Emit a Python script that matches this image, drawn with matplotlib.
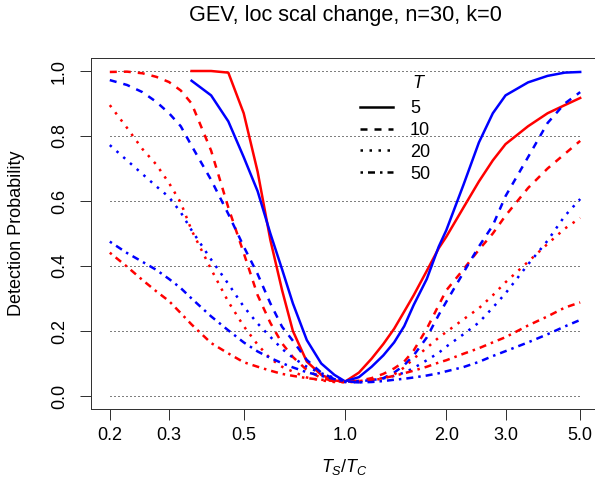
import numpy as np
import matplotlib.pyplot as plt

nan = np.nan

# T_S/T_C ratio grid (log scale on x)
ratio = [0.2, 0.225, 0.25, 0.275, 0.3, 0.325, 0.35, 0.4, 0.45, 0.5, 0.55, 0.6,
         0.65, 0.7, 0.77, 0.85, 0.93, 1.0, 1.1, 1.2, 1.3, 1.4, 1.5, 1.6, 1.75,
         1.9, 2.0, 2.25, 2.5, 2.75, 3.0, 3.5, 4.0, 4.5, 5.0]

# detection probabilities, red and blue curves for each T
red_5 = [nan, nan, nan, nan, nan, nan, 1.0, 1.0, 0.995, 0.87, 0.69, 0.48,
         0.326, 0.20, 0.106, 0.065, 0.048, 0.044, 0.072, 0.115, 0.16, 0.207, 0.26, 0.31, 0.385,
         0.455, 0.49, 0.58, 0.66, 0.725, 0.775, 0.83, 0.87, 0.895, 0.917]
blue_5 = [nan, nan, nan, nan, nan, nan, 0.97, 0.925, 0.845, 0.735, 0.63, 0.50,
          0.39, 0.285, 0.172, 0.10, 0.065, 0.045, 0.058, 0.09, 0.125, 0.165, 0.215, 0.28, 0.36,
          0.46, 0.51, 0.65, 0.78, 0.87, 0.925, 0.965, 0.985, 0.995, 0.997]
red_10 = [0.997, 0.998, 0.993, 0.982, 0.966, 0.94, 0.90, 0.755, 0.58, 0.44, 0.31, 0.225,
          0.162, 0.12, 0.08, 0.055, 0.046, 0.043, 0.047, 0.055, 0.068, 0.085, 0.106, 0.14, 0.207,
          0.28, 0.325, 0.39, 0.45, 0.50, 0.555, 0.64, 0.70, 0.745, 0.785]
blue_10 = [0.972, 0.957, 0.935, 0.905, 0.87, 0.83, 0.77, 0.665, 0.56, 0.46, 0.375, 0.285,
           0.213, 0.17, 0.111, 0.072, 0.052, 0.043, 0.042, 0.048, 0.055, 0.072, 0.095, 0.125, 0.18,
           0.25, 0.29, 0.38, 0.46, 0.525, 0.615, 0.735, 0.84, 0.90, 0.935]
red_20 = [0.895, 0.825, 0.76, 0.712, 0.655, 0.595, 0.51, 0.39, 0.29, 0.215, 0.158, 0.115,
          0.09, 0.075, 0.057, 0.048, 0.043, 0.042, 0.044, 0.048, 0.054, 0.066, 0.088, 0.115, 0.148,
          0.18, 0.197, 0.236, 0.27, 0.31, 0.35, 0.413, 0.468, 0.515, 0.548]
blue_20 = [0.772, 0.725, 0.683, 0.645, 0.612, 0.565, 0.51, 0.42, 0.345, 0.275, 0.223, 0.182,
           0.145, 0.118, 0.09, 0.07, 0.056, 0.049, 0.045, 0.049, 0.054, 0.062, 0.072, 0.086, 0.11,
           0.133, 0.152, 0.19, 0.226, 0.272, 0.316, 0.405, 0.478, 0.554, 0.606]
red_50 = [0.441, 0.398, 0.357, 0.322, 0.292, 0.255, 0.22, 0.163, 0.131, 0.104, 0.09, 0.078,
          0.068, 0.062, 0.055, 0.05, 0.046, 0.044, 0.046, 0.05, 0.055, 0.062, 0.07, 0.078, 0.09,
          0.103, 0.11, 0.13, 0.147, 0.165, 0.181, 0.217, 0.245, 0.272, 0.288]
blue_50 = [0.475, 0.44, 0.413, 0.388, 0.36, 0.332, 0.30, 0.245, 0.202, 0.165, 0.137, 0.117,
           0.101, 0.088, 0.073, 0.062, 0.052, 0.046, 0.042, 0.043, 0.046, 0.05, 0.053, 0.057, 0.063,
           0.07, 0.076, 0.089, 0.105, 0.123, 0.138, 0.165, 0.19, 0.214, 0.234]

T_labels = ["5", "10", "20", "50"]
x_ticks = [0.2, 0.3, 0.5, 1.0, 2.0, 3.0, 5.0]
y_ticks = [0.0, 0.2, 0.4, 0.6, 0.8, 1.0]

plt.rcParams["font.family"] = ["Liberation Sans", "DejaVu Sans"]
plt.rcParams["mathtext.fontset"] = "custom"
plt.rcParams["mathtext.rm"] = "Liberation Sans"
plt.rcParams["mathtext.it"] = "Liberation Sans:italic"

W, H = 595, 499
fig = plt.figure(figsize=(W / 72, H / 72), dpi=72)
# plot box in pixels: left 91, right 599, top 58, bottom 409
ax = fig.add_axes([91 / W, (H - 409) / H, (599 - 91) / W, (409 - 58) / H])

styles = ["-", (0, (2.8, 2.8)), (0, (1, 2.6)), (0, (1, 2, 2.8, 2))]
series = [(red_5, blue_5), (red_10, blue_10), (red_20, blue_20), (red_50, blue_50)]

# dotted reference lines
ax.hlines(y_ticks, 0.2, 5.0, colors="black", linestyles=(0, (1, 3)), lw=1)

for (red, blue), ls in zip(series, styles):
	ax.plot(ratio, red, color="#ff0000", ls=ls, lw=2.5)
	ax.plot(ratio, blue, color="#0000ff", ls=ls, lw=2.5)

ax.set_xscale("log")
ext = 25 ** 0.04
ax.set_xlim(0.2 / ext, 5.0 * ext)
ax.set_ylim(-0.04, 1.04)
ax.minorticks_off()
ax.set_xticks(x_ticks)
ax.set_xticklabels(["%.1f" % v for v in x_ticks])
ax.set_yticks(y_ticks)
ax.set_yticklabels(["%.1f" % v for v in y_ticks], rotation=90, va="center")
ax.tick_params(direction="out", length=11, width=1, labelsize=18, color="#333333")
ax.tick_params(axis="x", pad=7)
ax.tick_params(axis="y", pad=12)
for sp in ax.spines.values():
	sp.set_linewidth(1)
	sp.set_color("#333333")

# legend with black line samples
handles = []
for ls, lab in zip(styles, T_labels):
	h, = ax.plot([], [], color="black", ls=ls, lw=2.5, label=lab)
	handles.append(h)
leg = ax.legend(handles=handles, loc="upper left", frameon=False,
	bbox_to_anchor=(360 / W, (H - 100) / H), bbox_transform=fig.transFigure,
	fontsize=18, handlelength=1.83, handletextpad=0.94, labelspacing=0.27,
	borderpad=0, borderaxespad=0)
fig.text(418 / W, 1 - 84 / H, "T", ha="center", va="center", fontsize=18, style="italic")

fig.text(345 / W, 1 - 16 / H, "GEV, loc scal change, n=30, k=0",
	ha="center", va="center", fontsize=21.6)
fig.text(345 / W, 1 - 467 / H, "$T_S/T_C$", ha="center", va="center", fontsize=18)
fig.text(17 / W, 1 - 233 / H, "Detection Probability", rotation=90,
	ha="center", va="center", fontsize=18)

fig.savefig("out.png", dpi=72)
